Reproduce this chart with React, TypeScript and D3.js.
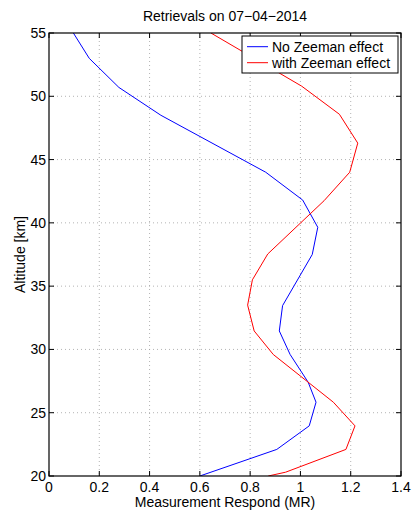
import * as d3 from 'd3';
import React from 'react';

const noZeemanAlt = [55, 53.0, 50.7, 48.5, 44.0, 41.8, 39.65, 37.5, 33.46, 31.46, 29.6, 27.4, 25.83, 23.96, 22.1, 20];
const noZeemanMR = [0.097, 0.16, 0.278, 0.445, 0.862, 1.009, 1.069, 1.047, 0.929, 0.916, 0.959, 1.031, 1.062, 1.035, 0.906, 0.6];

const zeemanAlt = [55, 50.8, 48.58, 46.3, 44.0, 41.75, 37.54, 35.5, 33.5, 31.46, 29.6, 25.83, 23.96, 22.1, 20.3, 20];
const zeemanMR = [0.644, 1.005, 1.155, 1.228, 1.196, 1.094, 0.87, 0.809, 0.79, 0.816, 0.892, 1.131, 1.217, 1.181, 0.941, 0.872];

const xTicks = [0, 0.2, 0.4, 0.6, 0.8, 1, 1.2, 1.4];
const yTicks = [20, 25, 30, 35, 40, 45, 50, 55];

const seriesNames = ['No Zeeman effect', 'with Zeeman effect'];
const seriesColors = ['#0000ff', '#ff0000'];

const params = {
    left: 49,
    right: 401,
    top: 33,
    bottom: 476,
    tick: 5,
};

const font = 'Liberation Sans, Arial, sans-serif';

export default function App() {
    const x = d3.scaleLinear().domain([0, 1.4]).range([params.left, params.right]);
    const y = d3.scaleLinear().domain([20, 55]).range([params.bottom, params.top]);

    const line = d3.line<[number, number]>()
        .x(d => x(d[0]))
        .y(d => y(d[1]));

    const series = [
        noZeemanMR.map((v, i) => [v, noZeemanAlt[i]] as [number, number]),
        zeemanMR.map((v, i) => [v, zeemanAlt[i]] as [number, number]),
    ];

    return (
        <svg width={414} height={518} style={{ position: 'absolute', left: 0, top: 0, background: '#fff' }}
            fontFamily={font}>
            <defs>
                <clipPath id="plot">
                    <rect x={params.left} y={params.top} width={params.right - params.left} height={params.bottom - params.top} />
                </clipPath>
            </defs>
            <rect x={0} y={0} width={414} height={518} fill="#fff" />

            {/* grid */}
            <g stroke="#a0a0a0" strokeWidth={0.8} strokeDasharray="1,3">
                {xTicks.slice(1, -1).map(t => (
                    <line key={'gx' + t} x1={x(t)} x2={x(t)} y1={params.top} y2={params.bottom} />
                ))}
                {yTicks.slice(1, -1).map(t => (
                    <line key={'gy' + t} x1={params.left} x2={params.right} y1={y(t)} y2={y(t)} />
                ))}
            </g>

            {/* data */}
            <g clipPath="url(#plot)" fill="none" strokeWidth={1}>
                {series.map((s, i) => (
                    <path key={i} d={line(s) || ''} stroke={seriesColors[i]} />
                ))}
            </g>

            {/* ticks */}
            <g stroke="#000" strokeWidth={1}>
                {xTicks.map(t => (
                    <g key={'tx' + t}>
                        <line x1={x(t)} x2={x(t)} y1={params.bottom} y2={params.bottom - params.tick} />
                        <line x1={x(t)} x2={x(t)} y1={params.top} y2={params.top + params.tick} />
                    </g>
                ))}
                {yTicks.map(t => (
                    <g key={'ty' + t}>
                        <line x1={params.left} x2={params.left + params.tick} y1={y(t)} y2={y(t)} />
                        <line x1={params.right} x2={params.right - params.tick} y1={y(t)} y2={y(t)} />
                    </g>
                ))}
            </g>
            <rect x={params.left} y={params.top} width={params.right - params.left} height={params.bottom - params.top}
                fill="none" stroke="#000" strokeWidth={1.2} />

            {/* tick labels */}
            <g fontSize={14} fill="#000">
                {xTicks.map(t => (
                    <text key={'lx' + t} x={x(t)} y={params.bottom + 16} textAnchor="middle">{String(t)}</text>
                ))}
                {yTicks.map(t => (
                    <text key={'ly' + t} x={params.left - 3} y={y(t) + 5} textAnchor="end">{t}</text>
                ))}
            </g>

            {/* title and axis labels */}
            <text x={(params.left + params.right) / 2} y={21} textAnchor="middle" fontSize={14}>Retrievals on 07−04−2014</text>
            <text x={(params.left + params.right) / 2} y={507} textAnchor="middle" fontSize={14}>Measurement Respond (MR)</text>
            <text transform={`translate(25,${(params.top + params.bottom) / 2}) rotate(-90)`} textAnchor="middle" fontSize={14}>Altitude [km]</text>

            {/* legend */}
            <g transform="translate(242,36)">
                <rect x={0} y={0} width={156} height={37} fill="#fff" stroke="#000" strokeWidth={1} />
                {seriesNames.map((n, i) => (
                    <g key={n} transform={`translate(0,${10.7 + i * 16})`}>
                        <line x1={5} x2={26} y1={0} y2={0} stroke={seriesColors[i]} strokeWidth={1} />
                        <text x={30} y={5} fontSize={14}>{n}</text>
                    </g>
                ))}
            </g>
        </svg>
    );
}
